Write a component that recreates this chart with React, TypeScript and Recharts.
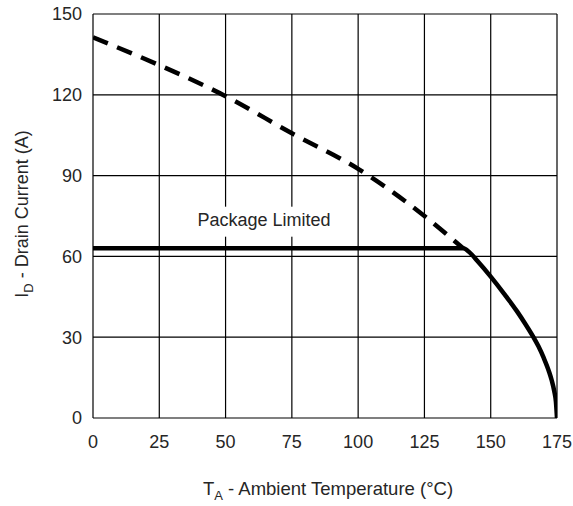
import React from "react";
import {
  LineChart,
  Line,
  XAxis,
  YAxis,
  CartesianGrid,
  ReferenceDot,
} from "recharts";

// ambient temperature ticks and current ticks
const tempTicks = [0, 25, 50, 75, 100, 125, 150, 175];
const currentTicks = [0, 30, 60, 90, 120, 150];

// silicon limit (dashed)
const siliconTemp = [0, 25, 50, 75, 100, 125, 139.6];
const siliconCurrent = [141.3, 131, 119.5, 105.7, 92.5, 75, 63];

// package limited / actual rating (solid)
const ratedTemp = [0, 139.6, 142, 145, 150, 155, 160, 163, 166, 168, 170, 172, 173, 174, 174.6, 175];
const ratedCurrent = [63, 63, 61.5, 58.3, 52.5, 46.2, 39.5, 35, 30.2, 26.6, 22.3, 17.2, 14, 9.8, 6, 0];

const siliconData = siliconTemp.map((t, i) => ({ t, i: siliconCurrent[i] }));
const ratedData = ratedTemp.map((t, i) => ({ t, i: ratedCurrent[i] }));

const FONT = '"Liberation Sans", Arial, sans-serif';
const TEXT = "#262626";

const XTitle = (props: any) => {
  const vb = props.viewBox || { x: 93, width: 464 };
  return (
    <text x={vb.x + vb.width / 2 + 3} y={495} textAnchor="middle" fill={TEXT} fontSize={18.5} fontFamily={FONT}>
      <tspan>T</tspan>
      <tspan fontSize={13} dy={5}>A</tspan>
      <tspan dy={-5}> - Ambient Temperature (°C)</tspan>
    </text>
  );
};

const YTitle = (props: any) => {
  const vb = props.viewBox || { y: 14, height: 404 };
  const cy = vb.y + vb.height / 2 - 2;
  return (
    <text
      x={28}
      y={cy}
      transform={`rotate(-90, 28, ${cy})`}
      textAnchor="middle"
      fill={TEXT}
      fontSize={18}
      fontFamily={FONT}
    >
      <tspan>I</tspan>
      <tspan fontSize={13} dy={5}>D</tspan>
      <tspan dy={-5}> - Drain Current (A)</tspan>
    </text>
  );
};

const PackageLabel = (props: any) => {
  const vb = props.viewBox || { x: 0, y: 0, width: 0, height: 0 };
  const cx = vb.x + (vb.width || 0) / 2;
  const cy = vb.y + (vb.height || 0) / 2;
  return (
    <g>
      <rect x={cx - 74} y={cy - 12} width={148} height={30} fill="#fff" />
      <text x={cx} y={cy + 7} textAnchor="middle" fill={TEXT} fontSize={18} fontFamily={FONT}>
        Package Limited
      </text>
    </g>
  );
};

export default function App() {
  return (
    <div style={{ position: "absolute", left: 0, top: 0, background: "#fff" }}>
      <LineChart width={573} height={506} margin={{ top: 14, right: 16, left: 0, bottom: 0 }}>
        <CartesianGrid stroke="#000" strokeWidth={1.2} />
        <XAxis
          dataKey="t"
          type="number"
          domain={[0, 175]}
          ticks={tempTicks}
          height={88}
          axisLine={false}
          tickLine={false}
          tickSize={0}
          tickMargin={17}
          tick={{ fill: TEXT, fontSize: 18, fontFamily: FONT }}
          label={<XTitle />}
          allowDataOverflow
        />
        <YAxis
          type="number"
          domain={[0, 150]}
          ticks={currentTicks}
          width={93}
          axisLine={false}
          tickLine={false}
          tickSize={0}
          tickMargin={11}
          tick={{ fill: TEXT, fontSize: 18, fontFamily: FONT }}
          label={<YTitle />}
          allowDataOverflow
        />
        <ReferenceDot x={64.5} y={74} r={0} stroke="none" fill="none" label={<PackageLabel />} />
        <Line
          data={siliconData}
          dataKey="i"
          type="monotone"
          stroke="#000"
          strokeWidth={4.5}
          strokeDasharray="16 10"
          dot={false}
          activeDot={false}
          isAnimationActive={false}
        />
        <Line
          data={ratedData}
          dataKey="i"
          type="monotone"
          stroke="#000"
          strokeWidth={4.5}
          dot={false}
          activeDot={false}
          isAnimationActive={false}
        />
      </LineChart>
    </div>
  );
}
